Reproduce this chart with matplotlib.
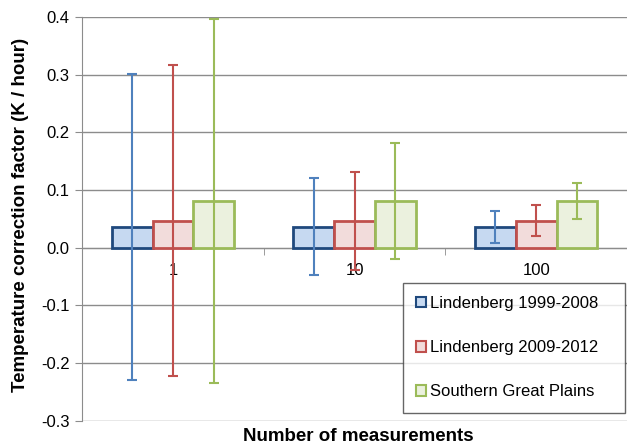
import numpy as np
import matplotlib.pyplot as plt
from matplotlib.patches import Patch

plt.rcParams['font.family'] = ['Liberation Sans', 'DejaVu Sans']

categories = ['1', '10', '100']
series = ['Lindenberg 1999-2008', 'Lindenberg 2009-2012', 'Southern Great Plains']
values = [
    [0.036, 0.036, 0.036],
    [0.047, 0.047, 0.047],
    [0.081, 0.081, 0.081],
]
errors = [
    [0.265, 0.084, 0.027],
    [0.270, 0.085, 0.027],
    [0.316, 0.100, 0.032],
]

fills = ['#C6D9F1', '#F2DCDB', '#EBF1DE']
edges = ['#1F497D', '#C0504D', '#9BBB59']
errcols = ['#4F81BD', '#C0504D', '#9BBB59']

fig = plt.figure(figsize=(6.27, 4.44), dpi=100)
ax = fig.add_axes([0.131, 0.052, 0.869, 0.910])

x = np.arange(len(categories))
w = 0.225
for i in range(3):
    pos = x + (i - 1) * w
    ax.bar(pos, values[i], w, color=fills[i], edgecolor=edges[i], linewidth=2, zorder=3)
    ax.errorbar(pos, values[i], yerr=errors[i], fmt='none', ecolor=errcols[i],
                elinewidth=1.5, capsize=3.5, capthick=1.5, zorder=4)

ax.set_xlim(-0.5, 2.5)
ax.set_ylim(-0.3, 0.4)
yt = np.arange(-0.3, 0.41, 0.1)
ax.set_yticks(yt)
ax.set_yticklabels([f'{v:.1f}' for v in yt], fontsize=12)
ax.yaxis.grid(True, color='#8C8C8C', linewidth=1, zorder=0)
ax.set_axisbelow(True)

ax.spines['top'].set_visible(False)
ax.spines['right'].set_visible(False)
ax.spines['left'].set_color('#8C8C8C')
ax.spines['bottom'].set_position(('data', 0))
ax.spines['bottom'].set_color('#8C8C8C')
ax.tick_params(axis='y', colors='#8C8C8C', labelcolor='black', length=5, direction='out', pad=4)

ax.set_xticks(x)
ax.set_xticklabels(categories, fontsize=12)
ax.tick_params(axis='x', length=0, pad=11)
ax.set_xticks([0.5, 1.5], minor=True)
ax.tick_params(axis='x', which='minor', length=5, colors='#8C8C8C')

fig.text(0.032, 0.517, 'Temperature correction factor (K / hour)', rotation=90,
         ha='center', va='center', fontsize=13.5, fontweight='bold')
fig.text(0.572, 0.016, 'Number of measurements', ha='center', va='center',
         fontsize=13.5, fontweight='bold')

handles = [Patch(facecolor=fills[i], edgecolor=edges[i], linewidth=1.5) for i in range(3)]
leg = ax.legend(handles, series, loc='upper left', bbox_to_anchor=(0.589, 0.017, 0.407, 0.325),
                mode='expand', fontsize=12, frameon=True, fancybox=False, edgecolor='#404040',
                handlelength=0.6, handleheight=0.6, handletextpad=0.2,
                labelspacing=1.75, borderpad=0.8, borderaxespad=0)
leg.get_frame().set_linewidth(1)
leg.set_zorder(5)

fig.savefig('out.png', dpi=100)
